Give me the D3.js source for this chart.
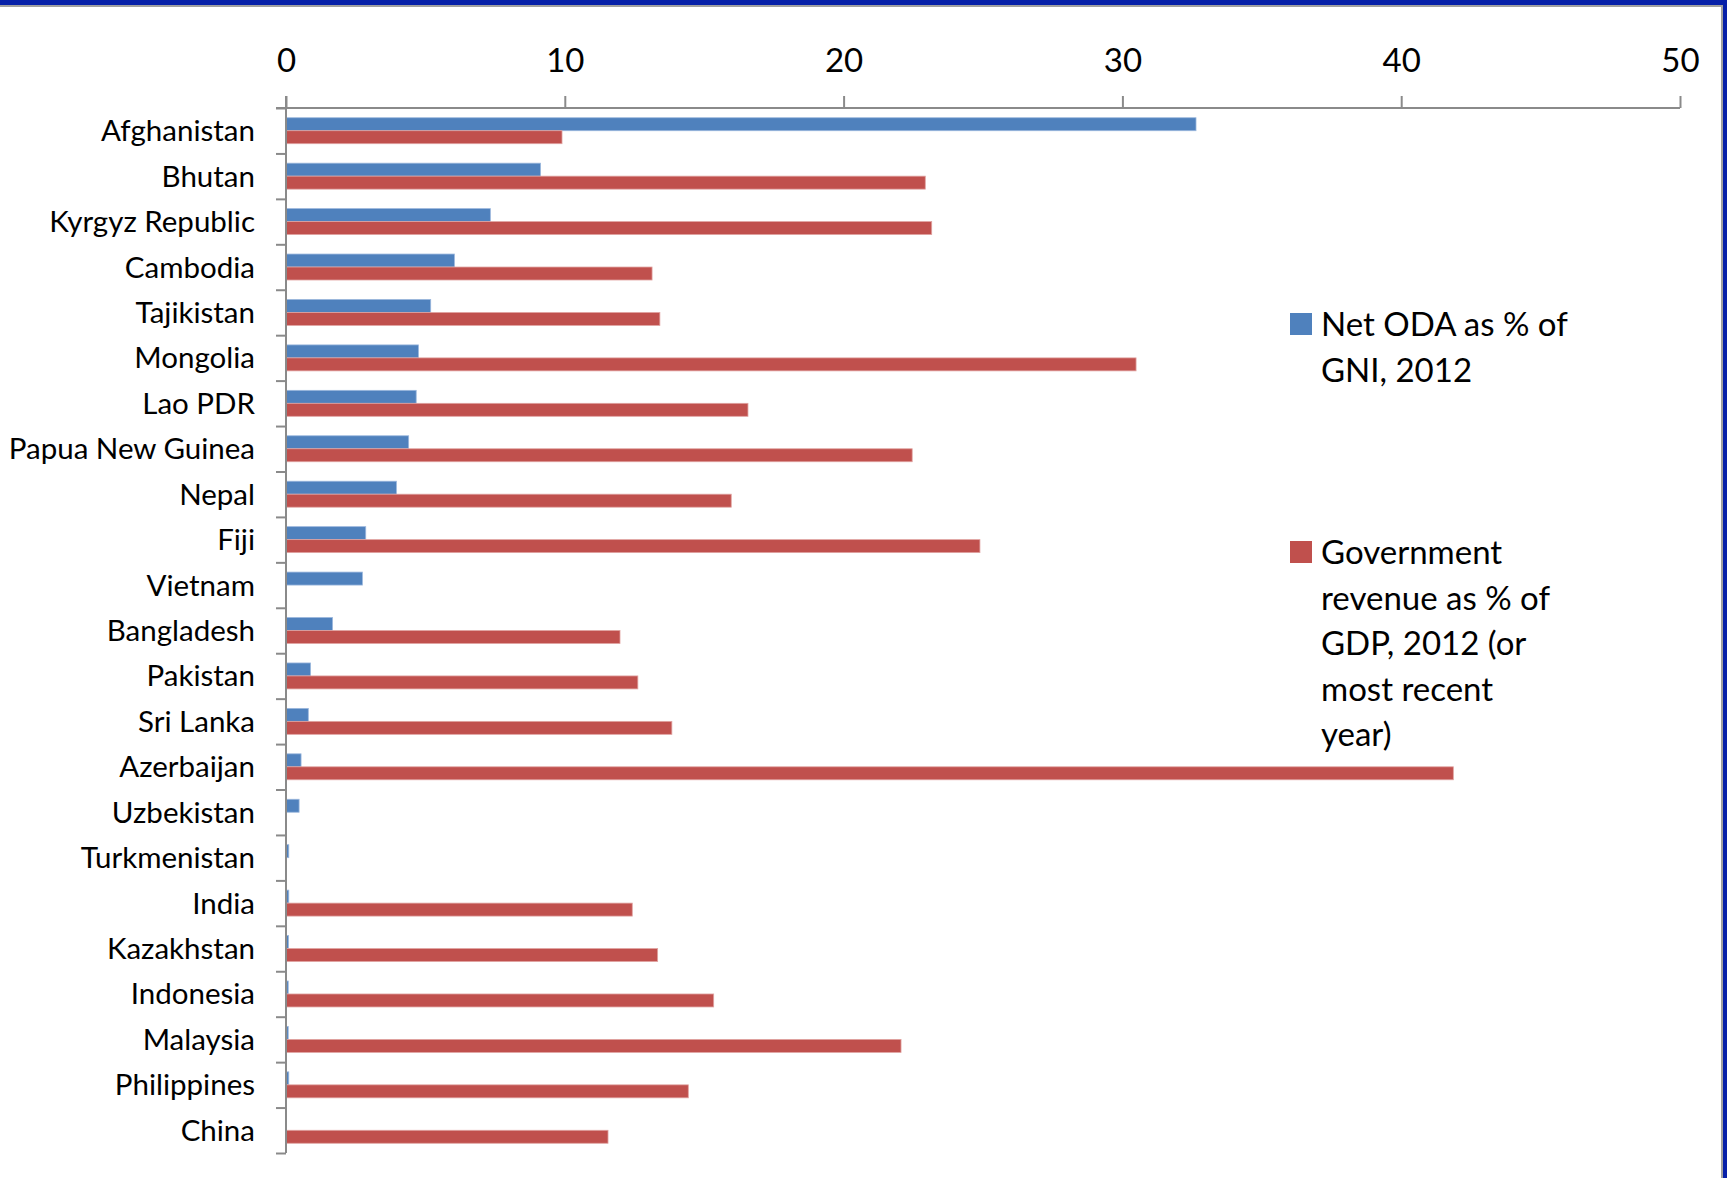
<!DOCTYPE html>
<html>
<head>
<meta charset="utf-8">
<script src="https://cdn.jsdelivr.net/npm/d3@7"></script>
<style>
  html, body { margin: 0; padding: 0; background: #ffffff; }
  svg { display: block; }
  text { font-family: Lato, "Open Sans", sans-serif; fill: #000; }
</style>
</head>
<body>
<script>
// Countries, top to bottom
const countries = [
  "Afghanistan", "Bhutan", "Kyrgyz Republic", "Cambodia", "Tajikistan",
  "Mongolia", "Lao PDR", "Papua New Guinea", "Nepal", "Fiji", "Vietnam",
  "Bangladesh", "Pakistan", "Sri Lanka", "Azerbaijan", "Uzbekistan",
  "Turkmenistan", "India", "Kazakhstan", "Indonesia", "Malaysia",
  "Philippines", "China"
];

// Net ODA as % of GNI, 2012
const netOdaPctGni = [
  32.64, 9.13, 7.33, 6.04, 5.19, 4.75, 4.67, 4.40, 3.96, 2.86, 2.74,
  1.67, 0.88, 0.80, 0.54, 0.47, 0.10, 0.10, 0.09, 0.08, 0.08, 0.10, 0
];

// Government revenue as % of GDP, 2012 or most recent year (null = no data)
const govRevenuePctGdp = [
  9.90, 22.93, 23.16, 13.13, 13.41, 30.49, 16.57, 22.46, 15.97, 24.89, null,
  11.98, 12.62, 13.84, 41.87, null, null, 12.42, 13.33, 15.34, 22.06, 14.43, 11.55
];

const seriesNames = [
  ["Net ODA as % of", "GNI, 2012"],
  ["Government", "revenue as % of", "GDP, 2012 (or", "most recent", "year)"]
];
const seriesColors = ["#4f81bd", "#c0504d"];
const seriesEdges = ["#9bb7dd", "#e0a3a1"];

const xTicks = [0, 10, 20, 30, 40, 50];

const W = 1727, H = 1178;
const plot = { left: 286, right: 1680, top: 108, bottom: 1153 };

const svg = d3.select("body").append("svg")
  .attr("width", W).attr("height", H);

svg.append("rect").attr("width", W).attr("height", H).attr("fill", "#fff");

// slide frame: blue band on top and right, with a thin grey rule inside
svg.append("rect").attr("x", 0).attr("y", 0).attr("width", W).attr("height", 5).attr("fill", "#0620a8");
svg.append("rect").attr("x", 0).attr("y", 5).attr("width", W - 6).attr("height", 2).attr("fill", "#a0a0a0");
svg.append("rect").attr("x", W - 4).attr("y", 0).attr("width", 4).attr("height", H).attr("fill", "#0620a8");
svg.append("rect").attr("x", W - 6).attr("y", 5).attr("width", 2).attr("height", H).attr("fill", "#a0a0a0");

const x = d3.scaleLinear().domain([0, 50]).range([plot.left, plot.right]);

// Excel-style gap width of 150% between category groups
const gap = 1.5 / 3.5;
const y = d3.scaleBand().domain(countries).range([plot.top, plot.bottom])
  .paddingInner(gap).paddingOuter(gap / 2);
const ySub = d3.scaleBand().domain([0, 1]).range([0, y.bandwidth()]);

const rows = countries.map((c, i) => ({
  country: c,
  values: [netOdaPctGni[i], govRevenuePctGdp[i]]
}));

// bars
const groups = svg.append("g").selectAll("g").data(rows).join("g")
  .attr("transform", d => `translate(0,${y(d.country)})`);

groups.selectAll("rect")
  .data(d => d.values.map((v, s) => ({ v, s })).filter(e => e.v != null && e.v > 0))
  .join("rect")
  .attr("x", x(0))
  .attr("y", e => ySub(e.s))
  .attr("width", e => x(e.v) - x(0))
  .attr("height", ySub.bandwidth())
  .attr("fill", e => seriesColors[e.s])
  .attr("stroke", e => seriesEdges[e.s])
  .attr("stroke-width", 0.8);

// value axis along the top
const axisColor = "#8a8a8a";
const xAxis = svg.append("g")
  .attr("transform", `translate(0,${plot.top})`)
  .call(d3.axisTop(x).tickValues(xTicks).tickSize(12).tickSizeOuter(0).tickPadding(24).tickFormat(d3.format("d")));
xAxis.select(".domain").attr("stroke", axisColor).attr("stroke-width", 2)
  .attr("d", `M${plot.left - 10},0H${plot.right}`);
xAxis.selectAll(".tick line").attr("stroke", axisColor).attr("stroke-width", 2);
xAxis.selectAll(".tick text")
  .attr("font-family", "Lato, sans-serif")
  .attr("font-size", 33)
  .attr("fill", "#000");

// category axis with tick marks between categories
const boundary = d3.scaleLinear().domain([0, countries.length]).range([plot.top, plot.bottom]);
const yAxis = svg.append("g")
  .attr("transform", `translate(${plot.left},0)`)
  .call(d3.axisLeft(boundary).tickValues(d3.range(countries.length + 1)).tickSize(10).tickSizeOuter(0).tickFormat(""));
yAxis.select(".domain").attr("stroke", axisColor).attr("stroke-width", 2)
  .attr("d", `M0,${plot.top - 12}V${plot.bottom}`);
yAxis.selectAll(".tick line").attr("stroke", axisColor).attr("stroke-width", 2);

// category labels
svg.append("g").selectAll("text").data(countries).join("text")
  .attr("x", plot.left - 31)
  .attr("y", d => y(d) + y.bandwidth() / 2 + 10.5)
  .attr("text-anchor", "end")
  .attr("font-size", 29.5)
  .text(d => d);

// legend
const legendX = 1290, legendY0 = 336, legendStep = 228, lineH = 45.5;
const legend = svg.append("g").selectAll("g").data(seriesNames).join("g")
  .attr("transform", (d, i) => `translate(${legendX},${legendY0 + i * legendStep})`);
legend.append("rect")
  .attr("x", 0).attr("y", -23).attr("width", 22).attr("height", 22)
  .attr("fill", (d, i) => seriesColors[i]);
legend.append("text")
  .attr("font-size", 33)
  .selectAll("tspan").data(d => d).join("tspan")
  .attr("x", 31)
  .attr("y", (d, j) => j * lineH)
  .text(d => d);
</script>
</body>
</html>
